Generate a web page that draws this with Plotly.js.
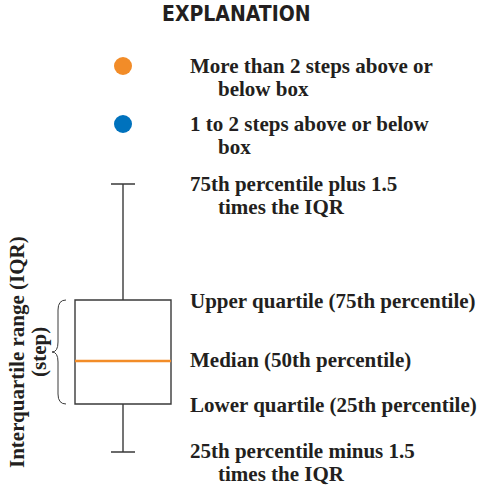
<!DOCTYPE html>
<html><head><meta charset="utf-8">
<script src="https://cdn.plot.ly/plotly-3.0.1.min.js"></script>
<style>html,body{margin:0;padding:0;background:#fff}#chart{width:483px;height:487px}</style>
</head><body><div id="chart"></div>
<script>
// Box statistics (diagram units, measured upward from the bottom of the figure)
const boxStats = {upperfence: 303, q3: 187, median: 126, q1: 83, lowerfence: 35};
const boxX = [123];
const outlierY = [421, 363];
const outlierColors = ['#f28c28', '#0072bd'];
const legendLines = [
  ['More than 2 steps above or', 'below box'],
  ['1 to 2 steps above or below', 'box']
];
const boxLabels = [
  ['75th percentile plus 1.5', 'times the IQR'],
  ['Upper quartile (75th percentile)'],
  ['Median (50th percentile)'],
  ['Lower quartile (25th percentile)'],
  ['25th percentile minus 1.5', 'times the IQR']
];
const titleText = 'EXPLANATION';
const iqrLabel = ['Interquartile range (IQR)', '(step)'];

const serif = {family: 'Liberation Serif, Times New Roman, serif', size: 21, color: '#231f20', weight: 700};
const boxW = 96;

const traces = [
  {
    type: 'box', x: boxX,
    q1: [boxStats.q1], median: [boxStats.median], q3: [boxStats.q3],
    lowerfence: [boxStats.lowerfence], upperfence: [boxStats.upperfence],
    width: boxW, whiskerwidth: 0.25,
    fillcolor: 'rgba(0,0,0,0)',
    line: {color: '#3a3a3a', width: 1.4},
    boxpoints: false, hoverinfo: 'skip', showlegend: false
  },
  {
    type: 'scatter', mode: 'markers', x: [boxX[0], boxX[0]], y: outlierY,
    marker: {size: 18, color: outlierColors, line: {width: 0}},
    hoverinfo: 'skip', showlegend: false
  }
];

const annotations = [];
annotations.push({text: '<b>' + titleText + '</b>', x: 236, y: 487 - 14, xref: 'x', yref: 'y',
  showarrow: false, xanchor: 'center', yanchor: 'middle',
  font: {family: 'Liberation Sans Narrow, DejaVu Sans Condensed, Arial Narrow, sans-serif', size: 21, color: '#231f20'}});

function addLines(lines, baseY) {
  lines.forEach((t, i) => {
    annotations.push({text: t, x: i === 0 ? 188 : 216, y: 487 - (baseY + i * 23) + 7,
      xref: 'x', yref: 'y', showarrow: false, xanchor: 'left', yanchor: 'middle', font: serif});
  });
}
addLines(legendLines[0], 73);
addLines(legendLines[1], 131);
const labelBase = [191, 308, 367, 412, 458];
boxLabels.forEach((l, i) => addLines(l, labelBase[i]));

annotations.push({text: iqrLabel[0], x: 17, y: 487 - 352, xref: 'x', yref: 'y', textangle: -90,
  showarrow: false, xanchor: 'center', yanchor: 'middle', font: serif});
annotations.push({text: iqrLabel[1], x: 39, y: 487 - 352, xref: 'x', yref: 'y', textangle: -90,
  showarrow: false, xanchor: 'center', yanchor: 'middle', font: serif});

function Y(p) { return 487 - p; }
const brace = `M 66 ${Y(300)} Q 58 ${Y(300)} 58 ${Y(310)} L 58 ${Y(342)} Q 58 ${Y(352)} 52 ${Y(352)} Q 58 ${Y(352)} 58 ${Y(362)} L 58 ${Y(394)} Q 58 ${Y(404)} 66 ${Y(404)}`;

const shapes = [
  {type: 'line', xref: 'x', yref: 'y', x0: boxX[0] - boxW / 2, x1: boxX[0] + boxW / 2,
   y0: boxStats.median, y1: boxStats.median, line: {color: '#f28c28', width: 2.5}},
  {type: 'path', xref: 'x', yref: 'y', path: brace, line: {color: '#3a3a3a', width: 1}}
];

const layout = {
  width: 483, height: 487,
  margin: {l: 0, r: 0, t: 0, b: 0},
  paper_bgcolor: '#fff', plot_bgcolor: '#fff',
  xaxis: {range: [0, 483], visible: false, fixedrange: true},
  yaxis: {range: [0, 487], visible: false, fixedrange: true},
  annotations, shapes, showlegend: false
};
Plotly.newPlot('chart', traces, layout, {staticPlot: true, displayModeBar: false});
</script></body></html>
